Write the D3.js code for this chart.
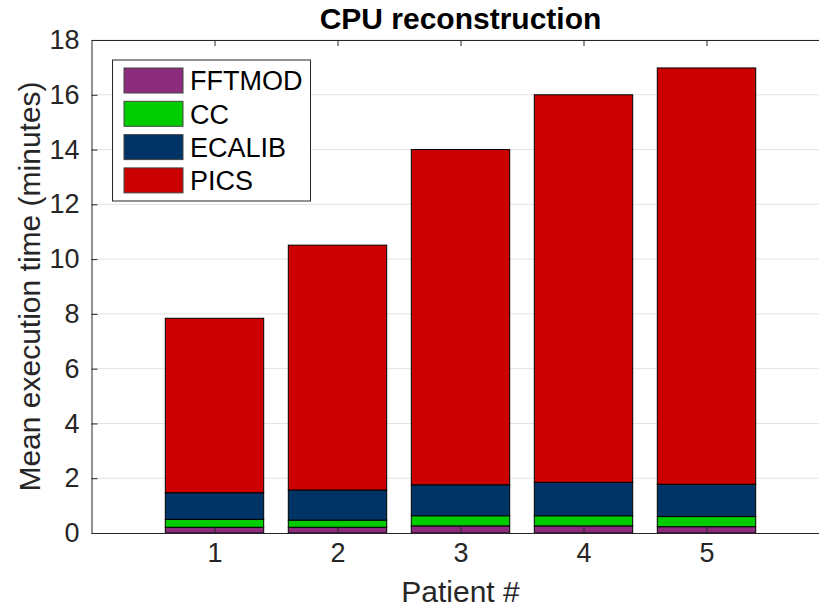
<!DOCTYPE html>
<html>
<head>
<meta charset="utf-8">
<script src="https://cdn.jsdelivr.net/npm/d3@7"></script>
<style>
  html, body { margin: 0; padding: 0; background: #fff; overflow: hidden; }
  svg { display: block; font-family: "Liberation Sans", Arial, Helvetica, sans-serif; }
</style>
</head>
<body>
<svg id="chart" width="819" height="610"></svg>
<script>
// Patients and the per-stage mean execution time (minutes), stacked bottom to top
const patients = [1, 2, 3, 4, 5];
const stages = ["FFTMOD", "CC", "ECALIB", "PICS"];
const fftmod = [0.21, 0.21, 0.26, 0.26, 0.23];
const cc     = [0.29, 0.26, 0.37, 0.37, 0.37];
const ecalib = [0.97, 1.10, 1.13, 1.22, 1.18];
const pics   = [6.37, 8.94, 12.24, 14.15, 15.20];
const yTicks = [0, 2, 4, 6, 8, 10, 12, 14, 16, 18];
const stageColors = ["#8c2c7c", "#00cc00", "#003366", "#cc0000"];

const rows = patients.map((p, i) => ({
  patient: p, FFTMOD: fftmod[i], CC: cc[i], ECALIB: ecalib[i], PICS: pics[i]
}));

const svg = d3.select("#chart");
const plotLeft = 91.5, plotTop = 40, plotBottom = 533;
const x = d3.scaleLinear().domain([0, 6]).range([plotLeft, plotLeft + 6 * 123]);
const y = d3.scaleLinear().domain([0, 18]).range([plotBottom, plotTop]);
const plotRight = x(6);
const axisColor = "#262626";

// horizontal grid
svg.append("g").selectAll("line").data(yTicks.slice(1)).join("line")
  .attr("x1", plotLeft).attr("x2", plotRight)
  .attr("y1", d => y(d)).attr("y2", d => y(d))
  .attr("stroke", "#e3e3e3").attr("stroke-width", 1);

// stacked bars
const stack = d3.stack().keys(stages)(rows);
const color = d3.scaleOrdinal().domain(stages).range(stageColors);
const barW = (x(1) - x(0)) * 0.8;
svg.append("g").selectAll("g").data(stack).join("g")
  .attr("fill", d => color(d.key))
  .selectAll("rect").data(d => d).join("rect")
  .attr("x", d => x(d.data.patient) - barW / 2)
  .attr("width", barW)
  .attr("y", d => y(d[1]))
  .attr("height", d => y(d[0]) - y(d[1]))
  .attr("stroke", "#000").attr("stroke-width", 1);

// axes (ticks drawn inward, box on)
const yAxis = d3.axisLeft(y).tickValues(yTicks).tickFormat(d3.format("d"))
  .tickSizeInner(-6).tickSizeOuter(0).tickPadding(12);
const gy = svg.append("g").attr("transform", `translate(${plotLeft},0)`).call(yAxis);
gy.select(".domain").attr("stroke", axisColor);
gy.selectAll(".tick line").attr("stroke", axisColor);
gy.selectAll("text").attr("font-size", 27).attr("fill", axisColor)
  .attr("font-family", "Liberation Sans, Arial, sans-serif");

const xAxis = d3.axisBottom(x).tickValues(patients).tickFormat(d3.format("d"))
  .tickSizeInner(-6).tickSizeOuter(0).tickPadding(10);
const gx = svg.append("g").attr("transform", `translate(0,${plotBottom})`).call(xAxis);
gx.select(".domain").attr("stroke", axisColor);
gx.selectAll(".tick line").attr("stroke", axisColor);
gx.selectAll("text").attr("font-size", 27).attr("fill", axisColor)
  .attr("font-family", "Liberation Sans, Arial, sans-serif");

const xTop = d3.axisTop(x).tickValues(patients).tickSizeInner(-6).tickSizeOuter(0).tickFormat("");
const gt = svg.append("g").attr("transform", `translate(0,${plotTop})`).call(xTop);
gt.select(".domain").attr("stroke", axisColor);
gt.selectAll(".tick line").attr("stroke", axisColor);

// title and axis labels
svg.append("text").attr("x", (plotLeft + plotRight) / 2).attr("y", 29)
  .attr("text-anchor", "middle").attr("font-size", 30).attr("font-weight", "bold")
  .attr("fill", "#000").text("CPU reconstruction");
svg.append("text").attr("x", (plotLeft + plotRight) / 2).attr("y", 602)
  .attr("text-anchor", "middle").attr("font-size", 30).attr("fill", axisColor)
  .text("Patient #");
svg.append("text")
  .attr("transform", `translate(40,${(plotTop + plotBottom) / 2}) rotate(-90)`)
  .attr("text-anchor", "middle").attr("font-size", 30).attr("fill", axisColor)
  .text("Mean execution time (minutes)");

// legend
const lg = svg.append("g");
lg.append("rect").attr("x", 112.5).attr("y", 60).attr("width", 198).attr("height", 141)
  .attr("fill", "#fff").attr("stroke", axisColor).attr("stroke-width", 1);
const items = lg.selectAll("g.item").data(stages).join("g").attr("class", "item")
  .attr("transform", (d, i) => `translate(0,${68 + i * 33.3})`);
items.append("rect").attr("x", 124).attr("y", 0).attr("width", 59).attr("height", 25)
  .attr("fill", d => color(d)).attr("stroke", "#444").attr("stroke-width", 1);
items.append("text").attr("x", 190).attr("y", 12.5).attr("dy", "0.36em")
  .attr("font-size", 27).attr("fill", "#000").text(d => d);
</script>
</body>
</html>
